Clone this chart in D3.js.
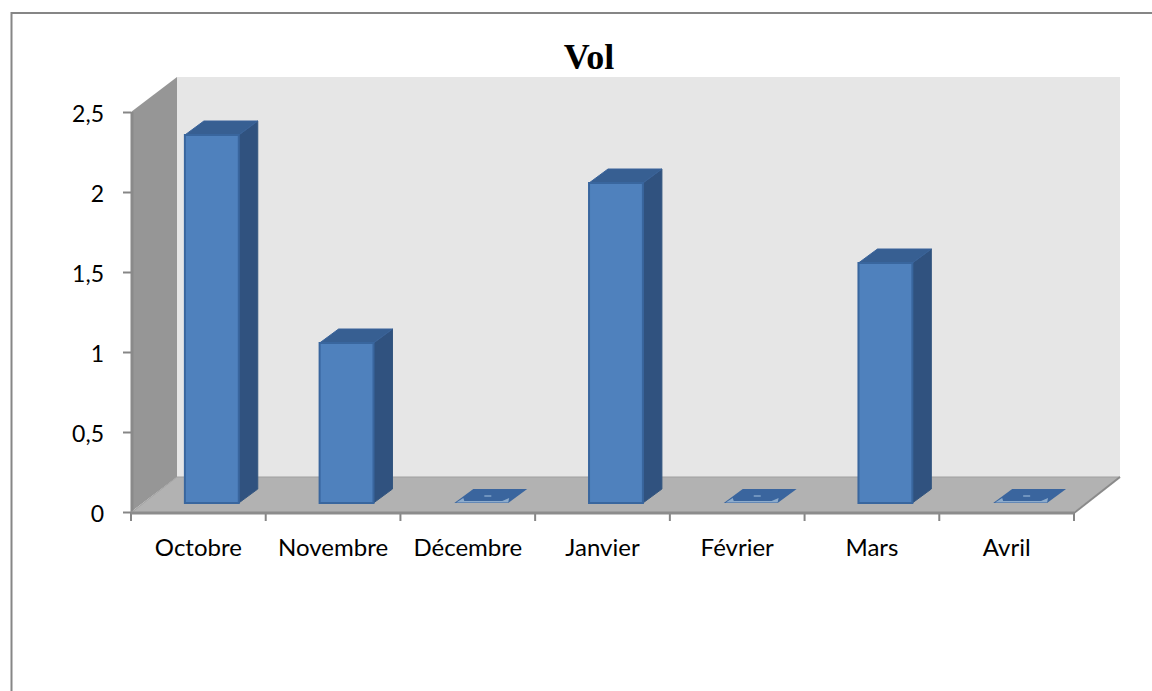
<!DOCTYPE html>
<html><head><meta charset="utf-8">
<script src="https://cdn.jsdelivr.net/npm/d3@7"></script>
<style>html,body{margin:0;padding:0;background:#fff;overflow:hidden}svg{display:block}</style>
</head><body><svg id="c" width="1152" height="691"></svg>
<script>
const categories = ["Octobre","Novembre","Décembre","Janvier","Février","Mars","Avril"];
const values = [2.3,1,0,2,0,1.5,0];
const yTicks = [0,0.5,1,1.5,2,2.5];
const title = "Vol";

const svg = d3.select("#c");
const x = d3.scaleBand().domain(categories).range([131,1074]);
const y = d3.scaleLinear().domain([0,2.5]).range([512,112]);
const wall = {dx:46, dy:-35};
const bar = {dx:19, dy:-14, base:-9, left:0.4, width:0.4};
const poly = pts => pts.map(p=>p.join(",")).join(" ");

// frame
svg.append("path").attr("d","M11.5,691V13H1152").attr("fill","none").attr("stroke","#868686").attr("stroke-width",2);
svg.append("text").attr("x",589).attr("y",69).attr("text-anchor","middle")
  .attr("font-family","Liberation Serif").attr("font-weight","bold").attr("font-size",36).attr("fill","#000").text(title);

const L=x.range()[0], R=x.range()[1], B=y(0), T=y(2.5);
// back wall
svg.append("polygon").attr("points",poly([[L+wall.dx,T+wall.dy],[R+wall.dx,T+wall.dy],[R+wall.dx,B+wall.dy],[L+wall.dx,B+wall.dy]])).attr("fill","#e6e6e6");
// side wall
svg.append("polygon").attr("points",poly([[L,T],[L+wall.dx,T+wall.dy],[L+wall.dx,B+wall.dy],[L,B]])).attr("fill","#969696");
svg.append("line").attr("x1",L+1).attr("x2",L+1).attr("y1",T).attr("y2",B).attr("stroke","#8a8a8a").attr("stroke-width",3);
// floor
svg.append("polygon").attr("points",poly([[L,B],[L+wall.dx,B+wall.dy],[R+wall.dx,B+wall.dy],[R,B]])).attr("fill","#b2b2b2");
svg.append("line").attr("x1",L+wall.dx).attr("x2",R+wall.dx).attr("y1",B+wall.dy).attr("y2",B+wall.dy).attr("stroke","#a0a0a0");
svg.append("line").attr("x1",R).attr("y1",B+1).attr("x2",R+wall.dx).attr("y2",B+wall.dy).attr("stroke","#8a8a8a").attr("stroke-width",2);
svg.append("line").attr("x1",L).attr("y1",B+1).attr("x2",L+wall.dx).attr("y2",B+wall.dy).attr("stroke","#a4a4a4");

// axes
const gy = svg.append("g").attr("transform",`translate(${L},0)`).call(d3.axisLeft(y).tickValues(yTicks).tickSize(8).tickPadding(19).tickSizeOuter(0).tickFormat(d=>String(d).replace(".",",")));
const gx = svg.append("g").attr("transform",`translate(0,${B+1})`).call(d3.axisBottom(x).tickSize(0));
gx.select(".domain").remove();
gy.select(".domain").remove();
gy.selectAll("text").attr("font-family","Lato").attr("font-size",23).attr("fill","#000").attr("dy","0.43em");
gy.selectAll("line").attr("stroke","#868686").attr("stroke-width",2);
gx.selectAll("text").attr("font-family","Lato").attr("font-size",24).attr("fill","#000").attr("y",43).attr("dy",0);
svg.append("g").selectAll("line").data(categories.concat([null])).join("line")
  .attr("x1",d=>d===null?R:x(d)).attr("x2",d=>d===null?R:x(d)).attr("y1",B+1).attr("y2",B+9)
  .attr("stroke","#868686").attr("stroke-width",2);
svg.append("line").attr("x1",L).attr("x2",R).attr("y1",B+1).attr("y2",B+1).attr("stroke","#8c8c8c").attr("stroke-width",3);

// bars
const step = x.step();
const g = svg.append("g");
categories.forEach((c,i)=>{
  const v = values[i];
  const x0 = x(c)+step*bar.left, x1 = x0+step*bar.width;
  const yb = y(0)+bar.base, yt = y(v)+bar.base;
  if (v>0){
    g.append("polygon").attr("points",poly([[x1,yt],[x1+bar.dx,yt+bar.dy],[x1+bar.dx,yb+bar.dy],[x1,yb]])).attr("fill","#30527f").attr("stroke","#34567f");
    g.append("polygon").attr("points",poly([[x0,yt],[x0+bar.dx,yt+bar.dy],[x1+bar.dx,yt+bar.dy],[x1,yt]])).attr("fill","#375f92").attr("stroke","#3a639a");
    g.append("rect").attr("x",x0).attr("y",yt).attr("width",x1-x0).attr("height",yb-yt).attr("fill","#4f81bd").attr("stroke","#39669e").attr("stroke-width",2);
  } else {
    g.append("polygon").attr("points",poly([[x0,yb],[x0+bar.dx,yb+bar.dy],[x1+bar.dx,yb+bar.dy],[x1,yb]])).attr("fill","#3a659e");
    g.append("polygon").attr("points",poly([[x0+2,yb-0.5],[x0+9,yb-5],[x0+10,yb-2],[x1-6,yb-2],[x1+1,yb-5],[x1,yb-0.5]])).attr("fill","#8eaccc");
    g.append("rect").attr("x",x0+30).attr("y",yb-8).attr("width",7).attr("height",2).attr("fill","#6f93be");
  }
});
</script></body></html>
